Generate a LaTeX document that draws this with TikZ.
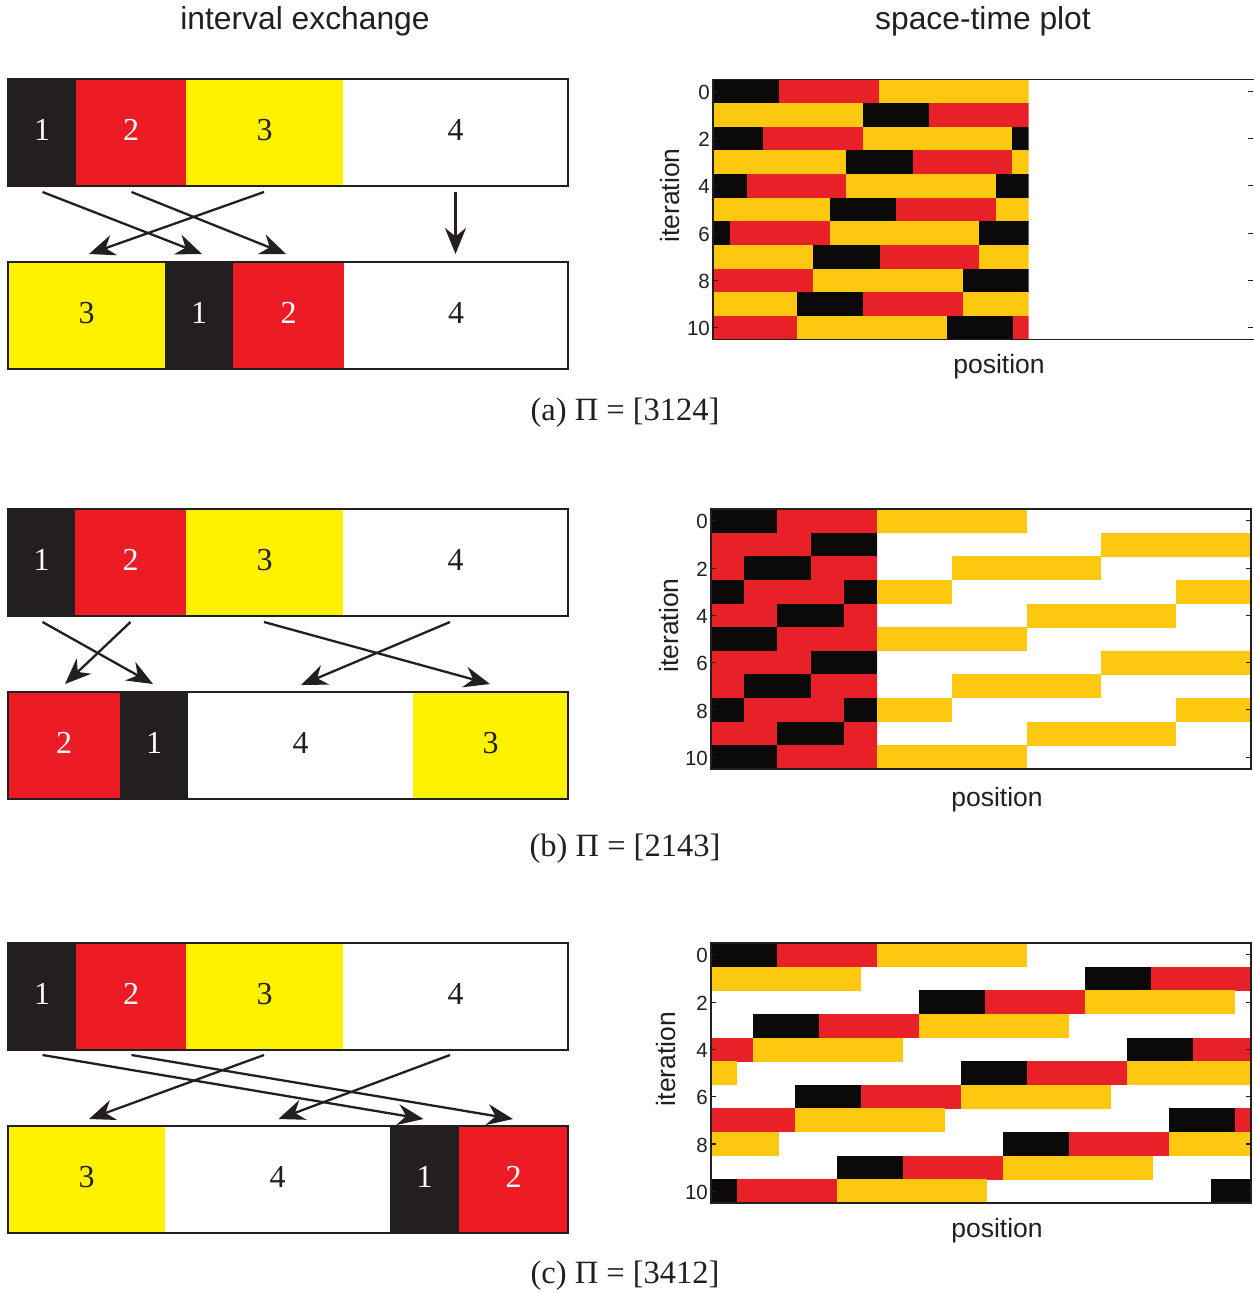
\documentclass[tikz,border=0pt]{standalone}
\usepackage{fontspec}
\setmainfont{Liberation Serif}
\newfontfamily\sansf{Liberation Sans}
\usetikzlibrary{arrows.meta}
\definecolor{ink}{HTML}{231F20}
\definecolor{iblack}{HTML}{231F20}
\definecolor{ired}{HTML}{ED1C24}
\definecolor{iyellow}{HTML}{FFF200}
\definecolor{pblack}{HTML}{0C0909}
\definecolor{pred}{HTML}{E82028}
\definecolor{pyellow}{HTML}{FCC810}
\begin{document}
\begin{tikzpicture}[x=1pt,y=-1pt,
  segbox/.style={inner sep=0pt, outer sep=0pt, anchor=north west, minimum height=107pt,
              font=\fontsize{32}{36}\selectfont, text depth=5pt},
  segk/.style={segbox, fill=iblack, text=white},
  segr/.style={segbox, fill=ired, text=white},
  segy/.style={segbox, fill=iyellow, text=ink},
  segw/.style={segbox, fill=white, text=ink},
  iebar/.style={draw=ink, line width=1.6pt},
  maparrow/.style={draw=ink, line width=2.3pt, -{Stealth[length=26pt,width=21pt]}},
  ttltext/.style={anchor=base, inner sep=0pt, text=ink, font=\sansf\fontsize{31.8}{36}\selectfont},
  axlab/.style={anchor=base, inner sep=0pt, text=ink, font=\sansf\fontsize{26.5}{30}\selectfont},
  itlab/.style={rotate=90, inner sep=0pt, text=ink, font=\sansf\fontsize{26.5}{30}\selectfont},
  ticklab/.style={anchor=east, inner sep=0pt, text=ink, font=\sansf\fontsize{20.5}{24}\selectfont},
  captext/.style={anchor=base, inner sep=0pt, text=ink, font=\fontsize{32.5}{36}\selectfont},
  plotframe/.style={draw=ink, line width=1.5pt},
  tickln/.style={draw=ink, line width=1.1pt}
]
\useasboundingbox (0,0) rectangle (1253,1293);
\fill[white] (0,0) rectangle (1253,1293);

% ---------- titles ----------
\node[ttltext] (ttl1) at (305,29) {interval exchange};
\node[ttltext] (ttl2) at (983,29) {space-time plot};

% ================= (a) =================
\node[segk, minimum width=68pt]  (at1) at (8,79) {1};
\node[segr, minimum width=110pt] (at2) at (at1.north east) {2};
\node[segy, minimum width=157pt] (at3) at (at2.north east) {3};
\node[segw, minimum width=225pt] (at4) at (at3.north east) {4};
\draw[iebar] (at1.north west) rectangle (at4.south east);

\node[segy, minimum width=157pt] (ab3) at (8,262) {3};
\node[segk, minimum width=68pt]  (ab1) at (ab3.north east) {1};
\node[segr, minimum width=111pt] (ab2) at (ab1.north east) {2};
\node[segw, minimum width=224pt] (ab4) at (ab2.north east) {4};
\draw[iebar] (ab3.north west) rectangle (ab4.south east);

\coordinate (a1s) at (42.5,192);  \coordinate (a1e) at (202,254);
\coordinate (a2s) at (131.5,192); \coordinate (a2e) at (286,254);
\coordinate (a3s) at (264,192);   \coordinate (a3e) at (89,254);
\coordinate (a4s) at (455.5,192); \coordinate (a4e) at (455.5,254);
\draw[maparrow] (a1s) -- (a1e);
\draw[maparrow] (a2s) -- (a2e);
\draw[maparrow] (a3s) -- (a3e);
\draw[maparrow] (a4s) -- (a4e);

\node[captext] (capa) at (625,420) {(a) Π = [3124]};

% space-time plot (a): rotation of [0,315.6) by 149.6
\begin{scope}
  \clip (713,79.5) rectangle (1028.6,339.5);
  \foreach \n in {0,...,10}{
    \pgfmathsetmacro\sh{mod(\n*149.6,315.6)}
    \pgfmathsetmacro\yt{79.5+\n*23.64}
    \pgfmathsetmacro\yb{\yt+23.94}
    \foreach \xa/\xb/\cc in {0/66.4/pblack,66.4/166/pred,166/315.6/pyellow}{
      \fill[fill=\cc] ({713+\xa+\sh},\yt) rectangle ({713+\xb+\sh},\yb);
      \fill[fill=\cc] ({713+\xa+\sh-315.6},\yt) rectangle ({713+\xb+\sh-315.6},\yb);
    }
  }
\end{scope}
\draw[plotframe] (1258,79.5) -- (713,79.5) -- (713,339.5) -- (1258,339.5);
\foreach \k in {0,2,...,10}{
  \pgfmathsetmacro\yc{79.5+(\k+0.5)*23.64}
  \draw[tickln] (713,\yc) -- ++(5,0);
  \draw[tickln] (1253,\yc) -- ++(-5,0);
  \node[ticklab] (la\k) at (710,\yc+1) {\k};
}
\node[itlab] (ita) at (670,195.5) {iteration};
\node[axlab] (posa) at (999,373) {position};

% ================= (b) =================
\node[segk, minimum width=67pt]  (bt1) at (8,509) {1};
\node[segr, minimum width=111pt] (bt2) at (bt1.north east) {2};
\node[segy, minimum width=157pt] (bt3) at (bt2.north east) {3};
\node[segw, minimum width=225pt] (bt4) at (bt3.north east) {4};
\draw[iebar] (bt1.north west) rectangle (bt4.south east);

\node[segr, minimum width=112pt] (bb2) at (8,692) {2};
\node[segk, minimum width=68pt]  (bb1) at (bb2.north east) {1};
\node[segw, minimum width=225pt] (bb4) at (bb1.north east) {4};
\node[segy, minimum width=155pt] (bb3) at (bb4.north east) {3};
\draw[iebar] (bb2.north west) rectangle (bb3.south east);

\coordinate (b1s) at (42.5,622);  \coordinate (b1e) at (153,684);
\coordinate (b2s) at (130.5,622); \coordinate (b2e) at (65,684);
\coordinate (b3s) at (264,622);   \coordinate (b3e) at (490,684);
\coordinate (b4s) at (450,622);   \coordinate (b4e) at (301,685);
\draw[maparrow] (b1s) -- (b1e);
\draw[maparrow] (b2s) -- (b2e);
\draw[maparrow] (b3s) -- (b3e);
\draw[maparrow] (b4s) -- (b4e);

\node[captext] (capb) at (625,856) {(b) Π = [2143]};

% space-time plot (b): rotations of [0,166) by 99.6 and [166,540) by 224.4
\begin{scope}
  \clip (711,509) rectangle (877,769);
  \foreach \n in {0,...,10}{
    \pgfmathsetmacro\sh{mod(\n*99.6,166)}
    \pgfmathsetmacro\yt{509+\n*23.64}
    \pgfmathsetmacro\yb{\yt+23.94}
    \foreach \xa/\xb/\cc in {0/66.4/pblack,66.4/166/pred}{
      \fill[fill=\cc] ({711+\xa+\sh},\yt) rectangle ({711+\xb+\sh},\yb);
      \fill[fill=\cc] ({711+\xa+\sh-166},\yt) rectangle ({711+\xb+\sh-166},\yb);
    }
  }
\end{scope}
\begin{scope}
  \clip (877,509) rectangle (1251,769);
  \foreach \n in {0,...,10}{
    \pgfmathsetmacro\sh{mod(\n*224.4,374)}
    \pgfmathsetmacro\yt{509+\n*23.64}
    \pgfmathsetmacro\yb{\yt+23.94}
    \fill[pyellow] ({877+\sh},\yt) rectangle ({877+149.6+\sh},\yb);
    \fill[pyellow] ({877+\sh-374},\yt) rectangle ({877+149.6+\sh-374},\yb);
  }
\end{scope}
\draw[plotframe] (711,509) rectangle (1251,769);
\foreach \k in {0,2,...,10}{
  \pgfmathsetmacro\yc{509+(\k+0.5)*23.64}
  \draw[tickln] (711,\yc) -- ++(5,0);
  \draw[tickln] (1251,\yc) -- ++(-5,0);
  \node[ticklab] (lb\k) at (708,\yc+1) {\k};
}
\node[itlab] (itb) at (669,625.5) {iteration};
\node[axlab] (posb) at (997,806) {position};

% ================= (c) =================
\node[segk, minimum width=68pt]  (ct1) at (8,943) {1};
\node[segr, minimum width=110pt] (ct2) at (ct1.north east) {2};
\node[segy, minimum width=157pt] (ct3) at (ct2.north east) {3};
\node[segw, minimum width=225pt] (ct4) at (ct3.north east) {4};
\draw[iebar] (ct1.north west) rectangle (ct4.south east);

\node[segy, minimum width=157pt] (cb3) at (8,1126) {3};
\node[segw, minimum width=225pt] (cb4) at (cb3.north east) {4};
\node[segk, minimum width=69pt]  (cb1) at (cb4.north east) {1};
\node[segr, minimum width=109pt] (cb2) at (cb1.north east) {2};
\draw[iebar] (cb3.north west) rectangle (cb2.south east);

\coordinate (c1s) at (42.5,1055);  \coordinate (c1e) at (423.5,1119);
\coordinate (c2s) at (131.5,1055); \coordinate (c2e) at (513,1119);
\coordinate (c3s) at (264,1055);   \coordinate (c3e) at (89,1119);
\coordinate (c4s) at (450,1055);   \coordinate (c4e) at (278.5,1119);
\draw[maparrow] (c1s) -- (c1e);
\draw[maparrow] (c2s) -- (c2e);
\draw[maparrow] (c3s) -- (c3e);
\draw[maparrow] (c4s) -- (c4e);

\node[captext] (capc) at (625,1283) {(c) Π = [3412]};

% space-time plot (c): rotation of [0,540) by 374
\begin{scope}
  \clip (711,943) rectangle (1251,1203);
  \foreach \n in {0,...,10}{
    \pgfmathsetmacro\sh{mod(\n*374,540)}
    \pgfmathsetmacro\yt{943+\n*23.64}
    \pgfmathsetmacro\yb{\yt+23.94}
    \foreach \xa/\xb/\cc in {0/66.4/pblack,66.4/166/pred,166/315.6/pyellow}{
      \fill[fill=\cc] ({711+\xa+\sh},\yt) rectangle ({711+\xb+\sh},\yb);
      \fill[fill=\cc] ({711+\xa+\sh-540},\yt) rectangle ({711+\xb+\sh-540},\yb);
    }
  }
\end{scope}
\draw[plotframe] (711,943) rectangle (1251,1203);
\foreach \k in {0,2,...,10}{
  \pgfmathsetmacro\yc{943+(\k+0.5)*23.64}
  \draw[tickln] (711,\yc) -- ++(5,0);
  \draw[tickln] (1251,\yc) -- ++(-5,0);
  \node[ticklab] (lc\k) at (708,\yc+1) {\k};
}
\node[itlab] (itc) at (666,1059) {iteration};
\node[axlab] (posc) at (997,1237) {position};
\end{tikzpicture}
\end{document}
